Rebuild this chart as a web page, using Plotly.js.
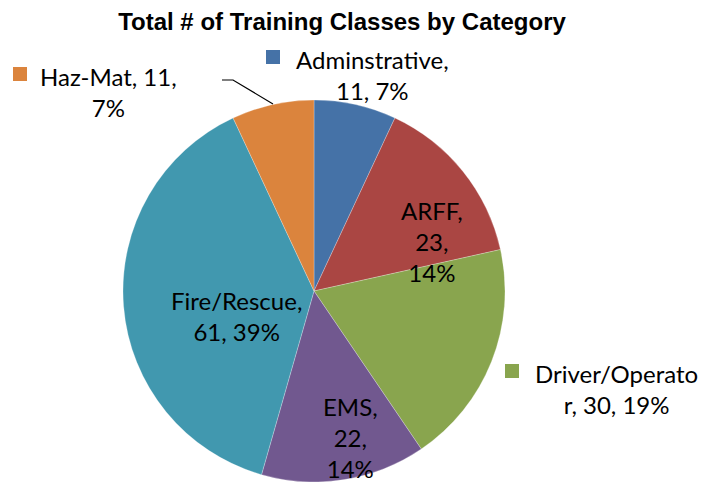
<!DOCTYPE html>
<html>
<head>
<meta charset="utf-8">
<script src="https://cdn.plot.ly/plotly-3.0.1.min.js"></script>
<style>html,body{margin:0;padding:0;background:#fff;}#chart{width:710px;height:482px;}</style>
</head>
<body>
<div id="chart"></div>
<script>
// ---- data ----
var categories = ['Adminstrative', 'ARFF', 'Driver/Operator', 'EMS', 'Fire/Rescue', 'Haz-Mat'];
var values = [11, 23, 30, 22, 61, 11];
var pctLabels = ['7%', '14%', '19%', '14%', '39%', '7%'];
// label text as shown (with the reference's line wrapping)
var labelTexts = [
  'Adminstrative,<br>11, 7%',
  'ARFF,<br>23,<br>14%',
  'Driver/Operato<br>r, 30, 19%',
  'EMS,<br>22,<br>14%',
  'Fire/Rescue,<br>61, 39%',
  'Haz-Mat, 11,<br>7%'
];
var colors = ['#4572A7', '#AA4643', '#89A54E', '#71588F', '#4198AF', '#DB843D'];

// ---- layout helpers (pixel -> paper) ----
var W = 710, H = 482;
function px(x) { return x / W; }
function py(y) { return 1 - y / H; }

// label placement (pixel centers)
var labelPos = [
  {x: 372, y: 75},
  {x: 432, y: 241},
  {x: 616, y: 389},
  {x: 350, y: 437},
  {x: 236, y: 316},
  {x: 108, y: 91.5}
];
var keyBoxes = [
  [266, 50], null, [505, 364], null, null, [13, 67]
];

var annotations = [];
var shapes = [];
var labelFont = {family: 'Lato, Carlito, Calibri, sans-serif', size: 24, color: '#000'};
for (var i = 0; i < categories.length; i++) {
  annotations.push({
    xref: 'paper', yref: 'paper',
    x: px(labelPos[i].x), y: py(labelPos[i].y),
    xanchor: 'center', yanchor: 'middle',
    text: labelTexts[i], showarrow: false, align: 'center',
    font: labelFont
  });
  if (keyBoxes[i]) {
    var b = keyBoxes[i];
    shapes.push({
      type: 'rect', xref: 'paper', yref: 'paper',
      x0: px(b[0]), x1: px(b[0] + 14), y0: py(b[1]), y1: py(b[1] + 14),
      fillcolor: colors[i], line: {width: 0}
    });
  }
}
// leader line for Haz-Mat
shapes.push({
  type: 'path', xref: 'paper', yref: 'paper',
  path: 'M ' + px(222) + ' ' + py(80) + ' L ' + px(233) + ' ' + py(80) + ' L ' + px(273) + ' ' + py(104),
  line: {color: '#000', width: 1.2}
});

var trace = {
  type: 'pie',
  labels: categories,
  values: values,
  sort: false,
  direction: 'clockwise',
  rotation: 0,
  marker: {colors: colors, line: {color: 'rgba(255,255,255,0.5)', width: 0.5}},
  textinfo: 'none',
  hoverinfo: 'label+value+percent',
  domain: {x: [123 / W, 505 / W], y: [0, 382 / H]},
  showlegend: false
};

var layout = {
  width: W, height: H,
  margin: {l: 0, r: 0, t: 0, b: 0},
  paper_bgcolor: '#fff',
  title: {
    text: '<b>Total # of Training Classes by Category</b>',
    font: {family: 'Liberation Sans, Arial, sans-serif', size: 24, color: '#000'},
    x: 342 / W, xanchor: 'center', xref: 'paper',
    y: 1 - 22 / H, yanchor: 'middle', yref: 'paper'
  },
  annotations: annotations,
  shapes: shapes,
  showlegend: false
};

Plotly.newPlot('chart', [trace], layout, {displayModeBar: false, staticPlot: true});
</script>
</body>
</html>
